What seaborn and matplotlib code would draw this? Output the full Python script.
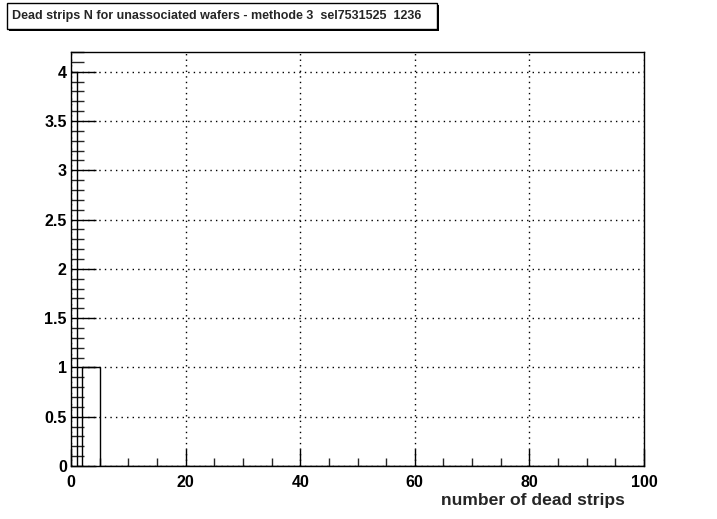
import matplotlib
matplotlib.use("Agg")
import matplotlib.pyplot as plt
import matplotlib.patches as patches
from matplotlib.ticker import MultipleLocator
import seaborn as sns
import numpy as np

# number of dead strips per unassociated wafer (one entry per wafer)
dead_strips = [0, 0, 0, 0, 2, 3, 4]
bin_edges = list(range(0, 101))
title_text = "Dead strips N for unassociated wafers - methode 3  sel7531525  1236"
x_label = "number of dead strips"

sns.set_style("white")
plt.rcParams['font.family'] = ['Liberation Sans', 'DejaVu Sans']
plt.rcParams['font.weight'] = 'bold'

W, H = 717, 519
fig = plt.figure(figsize=(W / 100, H / 100), dpi=100)
ax = fig.add_axes([71 / W, 1 - 466 / H, (644 - 71) / W, (466 - 52) / H])

sns.histplot(x=dead_strips, bins=bin_edges, element="step", fill=False,
             color="black", linewidth=1.0, ax=ax)

ax.set_xlim(0, 100)
ax.set_ylim(0, 4.2)
ax.set_xlabel("")
ax.set_ylabel("")

ax.xaxis.set_major_locator(MultipleLocator(20))
ax.xaxis.set_minor_locator(MultipleLocator(5))
ax.yaxis.set_major_locator(MultipleLocator(0.5))
ax.yaxis.set_minor_locator(MultipleLocator(0.1))
ax.set_yticks(np.arange(0, 4.01, 0.5))
ax.set_yticklabels(["0", "0.5", "1", "1.5", "2", "2.5", "3", "3.5", "4"])

ax.tick_params(axis="x", which="major", direction="in", length=12, width=1,
               labelsize=11.5, pad=6.5, colors="black", bottom=True)
ax.tick_params(axis="x", which="minor", direction="in", length=6, width=1, bottom=True)
ax.tick_params(axis="y", which="major", direction="in", length=18, width=1,
               labelsize=11.5, pad=3, colors="black", left=True)
ax.tick_params(axis="y", which="minor", direction="in", length=9, width=1, left=True)
for lab in ax.get_xticklabels() + ax.get_yticklabels():
    lab.set_fontweight("bold")

ax.grid(True, which="major", color="black", linestyle=(0, (1, 3)), linewidth=1)
for s in ax.spines.values():
    s.set_color("black")
    s.set_linewidth(1)

fig.text(625 / W, 1 - 500 / H, x_label, ha="right", va="center",
         fontsize=12.6, fontweight="bold")

# title box with shadow
fig.patches.append(patches.Rectangle((9 / W, 1 - 31 / H), 430 / W, 26 / H,
                                     transform=fig.transFigure, facecolor="black",
                                     edgecolor="none"))
fig.patches.append(patches.Rectangle((7 / W, 1 - 29 / H), 430 / W, 26 / H,
                                     transform=fig.transFigure, facecolor="white",
                                     edgecolor="black", linewidth=1))
fig.text(12 / W, 1 - 16 / H, title_text, ha="left", va="center",
         fontsize=9, fontweight="bold")

fig.savefig("out.png", dpi=100)
